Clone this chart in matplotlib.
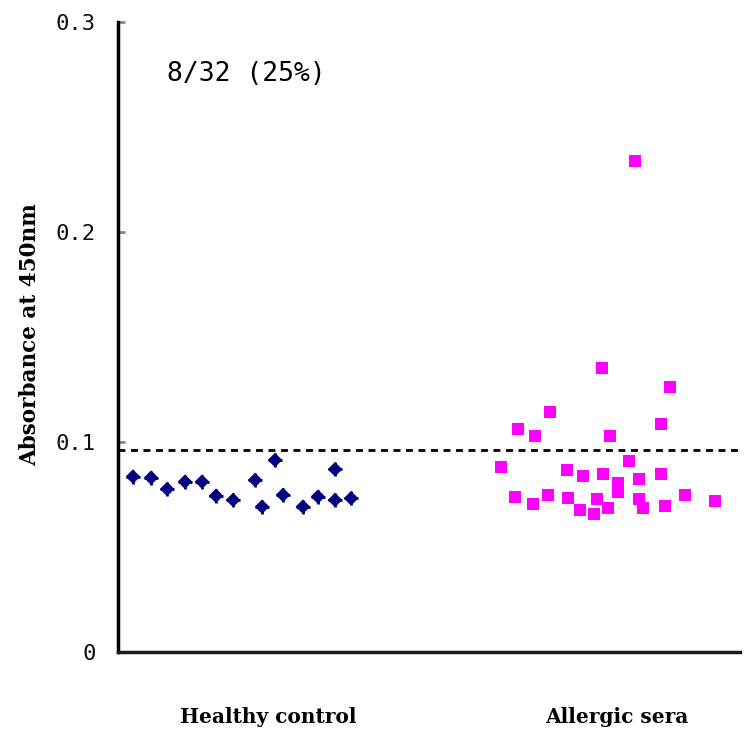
import matplotlib
matplotlib.use("Agg")
from matplotlib import pyplot as plt
import numpy as np

# data
groups = ["Healthy control", "Allergic sera"]
healthy_jitter = [-0.387, -0.335, -0.289, -0.238, -0.189, -0.149, -0.100, -0.037,
                  -0.017, 0.020, 0.043, 0.100, 0.143, 0.192, 0.192, 0.238]
healthy_abs = [0.0835, 0.0830, 0.0776, 0.0811, 0.0811, 0.0744, 0.0724, 0.0819,
               0.0692, 0.0914, 0.0748, 0.0692, 0.0740, 0.0870, 0.0724, 0.0732]
allergic_jitter = [-0.044, 0.152, -0.192, -0.284, -0.235, -0.020, 0.126, -0.332,
                   0.034, -0.143, -0.097, -0.040, 0.003, 0.063, 0.126, 0.003,
                   -0.292, -0.198, -0.140, -0.057, 0.063, 0.195, 0.281, -0.241,
                   -0.106, -0.066, -0.026, 0.074, 0.138, 0.052]
allergic_abs = [0.1351, 0.1263, 0.1144, 0.1060, 0.1029, 0.1029, 0.1084, 0.0882,
                0.0910, 0.0867, 0.0838, 0.0846, 0.0803, 0.0824, 0.0846, 0.0763,
                0.0740, 0.0748, 0.0732, 0.0727, 0.0727, 0.0748, 0.0719, 0.0705,
                0.0676, 0.0657, 0.0684, 0.0684, 0.0697, 0.2337]
cutoff = 0.0962
yticks = [0, 0.1, 0.2, 0.3]
ytick_labels = ["0", "0.1", "0.2", "0.3"]
note = "8/32 (25%)"

fig = plt.figure(figsize=(7.44, 7.31), dpi=100)
ax = fig.add_axes([118 / 744, 1 - 652 / 731, 622 / 744, 630 / 731])

hx = 1 + np.array(healthy_jitter)
ax.scatter(hx, healthy_abs, marker="D", s=55, color="#000080",
           edgecolors="none", zorder=3)
ax.scatter(hx, healthy_abs, marker="+", s=110, color="#000080",
           linewidths=2, zorder=3)
ax.scatter(2 + np.array(allergic_jitter), allergic_abs, marker="s", s=75,
           color="#ff00ff", edgecolors="none", zorder=3)
ax.axhline(cutoff, color="black", linestyle=(0, (2.5, 2)), linewidth=2)

ax.set_xlim(1 - 150 / 349, 2 + 123 / 349)
ax.set_ylim(0, 0.3)
ax.set_yticks(yticks)
ax.set_yticklabels(ytick_labels, fontsize=16, color="#111111",
                   family="DejaVu Sans Mono")
ax.tick_params(axis="y", direction="in", length=5, width=2, color="#888888", pad=16)
ax.set_xticks([])

for sp in ["top", "right"]:
    ax.spines[sp].set_visible(False)
ax.spines["left"].set_linewidth(2.5)
ax.spines["bottom"].set_linewidth(2.5)
ax.spines["bottom"].set_color("#1a1a1a")

fig.text(30 / 744, 1 - 335 / 731, "Absorbance at 450nm", rotation=90,
         fontsize=15.5, fontweight="bold", family="DejaVu Serif",
         ha="center", va="center")
for i, g in enumerate(groups):
    ax.text(i + 1, -0.031, g, ha="center", va="center", fontsize=14.5,
            fontweight="bold", family="DejaVu Serif")
ax.text(167 / 744, 1 - 74 / 731, note, transform=fig.transFigure, fontsize=19,
        ha="left", va="center", family="DejaVu Sans Mono")

fig.savefig("out.png", dpi=100)
